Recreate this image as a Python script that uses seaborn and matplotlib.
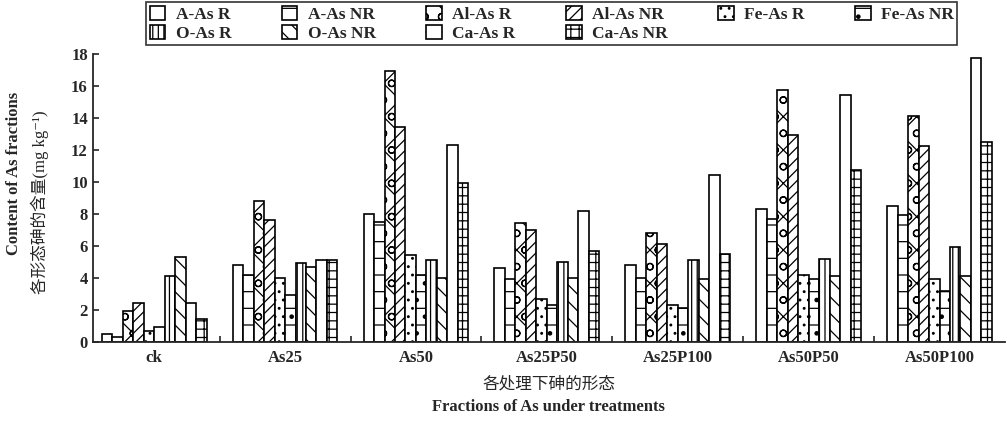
import numpy as np
import pandas as pd
import seaborn as sns
import matplotlib.pyplot as plt

treatments = ['ck', 'As25', 'As50', 'As25P50', 'As25P100', 'As50P50', 'As50P100']
series = ['A-As R', 'A-As NR', 'Al-As R', 'Al-As NR', 'Fe-As R', 'Fe-As NR',
          'O-As R', 'O-As NR', 'Ca-As R', 'Ca-As NR']

a_as_r = [0.5, 4.8, 8.0, 4.6, 4.8, 8.3, 8.5]
a_as_nr = [0.3, 4.2, 7.5, 3.9, 4.0, 7.7, 7.9]
al_as_r = [1.9, 8.8, 16.9, 7.4, 6.8, 15.7, 14.1]
al_as_nr = [2.4, 7.6, 13.4, 7.0, 6.1, 12.9, 12.2]
fe_as_r = [0.7, 4.0, 5.4, 2.7, 2.3, 4.2, 3.9]
fe_as_nr = [0.9, 2.9, 4.2, 2.3, 2.1, 3.9, 3.2]
o_as_r = [4.1, 4.9, 5.1, 5.0, 5.1, 5.2, 5.9]
o_as_nr = [5.3, 4.7, 4.0, 4.0, 3.9, 4.1, 4.1]
ca_as_r = [2.4, 5.1, 12.3, 8.2, 10.4, 15.4, 17.7]
ca_as_nr = [1.4, 5.1, 9.9, 5.7, 5.5, 10.7, 12.5]

values = [a_as_r, a_as_nr, al_as_r, al_as_nr, fe_as_r, fe_as_nr,
          o_as_r, o_as_nr, ca_as_r, ca_as_nr]
hatches = ['', '-', 'xo', '///', '..', '-.', '|||', '\\\\', '', '++']

df = pd.DataFrame({
    'treatment': np.tile(treatments, len(series)),
    'fraction': np.repeat(series, len(treatments)),
    'value': np.concatenate(values),
})

sns.set_style('ticks')
plt.rcParams['font.family'] = ['Liberation Serif', 'Noto Sans CJK SC', 'DejaVu Sans']
plt.rcParams['hatch.linewidth'] = 0.9
plt.rcParams['axes.linewidth'] = 1.3

fig = plt.figure(figsize=(10.07, 4.22), dpi=100)
ax = fig.add_axes([0.092, 0.19, 0.906, 0.683])

sns.barplot(data=df, x='treatment', y='value', hue='fraction', order=treatments,
            hue_order=series, palette=['white'] * len(series), edgecolor='black',
            linewidth=1.2, width=0.8, ax=ax, legend=False)

for cont, h in zip(ax.containers, hatches):
    for bar in cont:
        bar.set_hatch(h)

ax.set_ylim(0, 18)
ax.set_xlim(-0.47, 6.5)
ax.set_yticks(range(0, 19, 2))
ax.tick_params(axis='y', direction='in', length=4, width=1.2, labelsize=12)
ax.tick_params(axis='x', length=0, labelsize=12, pad=6)
ax.set_xticks(np.arange(0.5, 6.5, 1), minor=True)
ax.tick_params(axis='x', which='minor', direction='in', length=4, width=1.2)
for lab in ax.get_xticklabels() + ax.get_yticklabels():
    lab.set_fontweight('bold')
sns.despine(ax=ax)
ax.set_xlabel('')
ax.set_ylabel('')

fig.text(0.545, 0.09, '各处理下砷的形态', ha='center', va='center', fontsize=12)
fig.text(0.545, 0.035, 'Fractions of As under treatments', ha='center', va='center',
         fontsize=12, fontweight='bold')
fig.text(0.014, 0.59, 'Content of As fractions', rotation=90, ha='center', va='center',
         fontsize=12, fontweight='bold')
fig.text(0.040, 0.52, '各形态砷的含量(mg kg⁻¹)', rotation=90, ha='center',
         va='center', fontsize=12)

# legend is filled column by column, so interleave to read row by row
order = [0, 6, 1, 7, 2, 8, 3, 9, 4, 5]
leg = ax.legend([ax.containers[i] for i in order], [series[i] for i in order],
                ncol=6, loc='upper center', borderaxespad=0,
                bbox_to_anchor=(0.548, 0.995), bbox_transform=fig.transFigure,
                frameon=True, fancybox=False, edgecolor='black',
                handlelength=0.9, handleheight=0.9, handletextpad=0.6,
                columnspacing=2.9, labelspacing=0.1, borderpad=0.2,
                prop={'weight': 'bold', 'size': 12.5})
leg.get_frame().set_linewidth(1.2)

fig.savefig('out.png', dpi=100)
